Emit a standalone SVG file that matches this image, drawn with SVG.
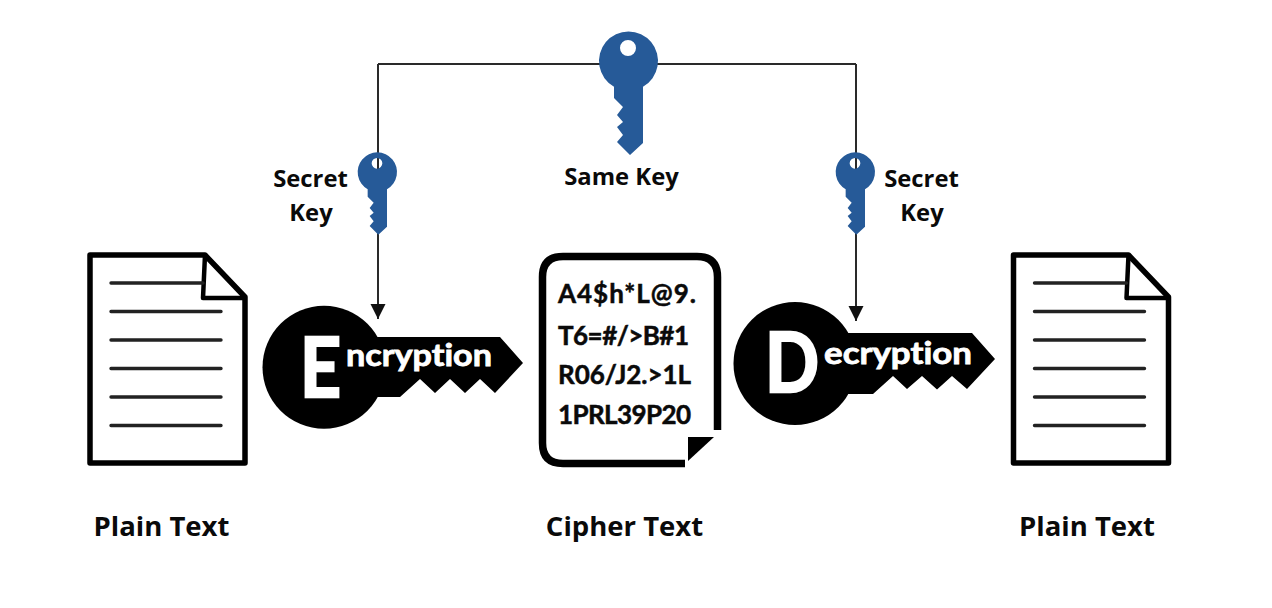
<svg xmlns="http://www.w3.org/2000/svg" xmlns:xlink="http://www.w3.org/1999/xlink" width="1272" height="608" viewBox="0 0 1272 608">
<style>
text{font-family:"Lato","Liberation Sans",sans-serif;font-weight:700;fill:#0a0a0a;font-variant-ligatures:none}
.lbl{font-family:"Open Sans","Liberation Sans",sans-serif;text-anchor:middle;font-weight:700}
.cap{font-size:27.500px}
.sm{font-size:23.800px}
.ct{font-size:26px;stroke:#0a0a0a;stroke-width:.5}
.w{fill:#fff;stroke:#fff}
.big{font-size:82px;stroke-width:2.500}
.sub{font-size:31px;stroke-width:.8}
.conn{fill:none;stroke:#2a2a2a;stroke-width:2}
.doc{fill:#fff;stroke:#000;stroke-width:5.500;stroke-linejoin:round}
.rule{stroke:#222;stroke-width:3.400;stroke-linecap:round}
</style>
<defs>
<marker id="arrow" markerUnits="userSpaceOnUse" markerWidth="16" markerHeight="16" refX="15" refY="8" orient="auto"><path d="M0 0.500L15 8L0 15.500Z" fill="#111"/></marker>
<path id="key" fill="#265a98" fill-rule="evenodd" d="M-14 25.700A29.500 29.500 0 1 1 15 25.700V82L2 94L-11 81L-5 74L-11 66L-5 61L-11 54L-5 46L-14 37ZM8 -13A8 8 0 1 0 -8 -13A8 8 0 1 0 8 -13Z"/>
<g id="page">
<path class="doc" d="M90 255H205L245 297V463H90Z"/>
<path d="M205 255L203 298H245" fill="none" stroke="#000" stroke-width="4.500" stroke-linejoin="round"/>
<path class="rule" d="M111 283H203M111 311.500H221M111 340H221M111 368.500H221M111 397H221M111 425.500H221"/>
</g>
</defs>
<rect width="1272" height="608" fill="#fff"/>
<g id="connectors">
<path class="conn" d="M378 64H856"/>
<path class="conn" d="M378 64V319" marker-end="url(#arrow)"/>
<path class="conn" d="M856 64V321" marker-end="url(#arrow)"/>
</g>
<g id="plain-left"><use href="#page"/><text class="lbl cap" x="161.500" y="536">Plain Text</text></g>
<g id="cipher">
<path d="M685 463.500H563Q542.500 463.500 542.500 443V277Q542.500 256.500 563 256.500H697Q717.500 256.500 717.500 277V430" fill="none" stroke="#000" stroke-width="7.500"/>
<path d="M688 437H714L688 461Z" fill="#000"/>
<text class="ct" x="558" y="303" textLength="138">A4$h*L@9.</text>
<text class="ct" x="558" y="345" textLength="131">T6=#/&gt;B#1</text>
<text class="ct" x="558" y="384" textLength="133">R06/J2.&gt;1L</text>
<text class="ct" x="558" y="424" textLength="133">1PRL39P20</text>
<text class="lbl cap" x="624.500" y="536">Cipher Text</text>
</g>
<g id="plain-right"><use href="#page" x="923.500"/><text class="lbl cap" x="1087" y="536">Plain Text</text></g>
<g id="encryption">
<path d="M375 337H500L523 363L495 393L480 379L465 393L450 379L435 393L420 379L400 397H375Z" fill="#000"/>
<circle cx="324" cy="367.300" r="61.500" fill="#000"/>
<text class="w big" x="300" y="397" textLength="41" lengthAdjust="spacingAndGlyphs">E</text>
<text class="w sub" x="346" y="366" textLength="146" lengthAdjust="spacingAndGlyphs">ncryption</text>
</g>
<g id="decryption">
<path d="M845 333H972L995 359L967 389L952 376L937 389.500L922 376L907 389L893 376L873 394H845Z" fill="#000"/>
<circle cx="795" cy="363.500" r="61.500" fill="#000"/>
<text class="w big" x="765" y="392" textLength="54" lengthAdjust="spacingAndGlyphs">D</text>
<text class="w sub" x="824" y="364" textLength="148" lengthAdjust="spacingAndGlyphs">ecryption</text>
</g>
<g id="same-key"><use href="#key" x="628" y="61"/><text class="lbl sm" x="621.500" y="185">Same Key</text></g>
<g id="secret-key-left"><use href="#key" transform="translate(377 172) scale(.667)"/><text class="lbl sm" x="310.500" y="187">Secret</text><text class="lbl sm" x="311" y="221">Key</text></g>
<g id="secret-key-right"><use href="#key" transform="translate(855 172) scale(.667)"/><text class="lbl sm" x="921.500" y="187">Secret</text><text class="lbl sm" x="922" y="221">Key</text></g>
</svg>
